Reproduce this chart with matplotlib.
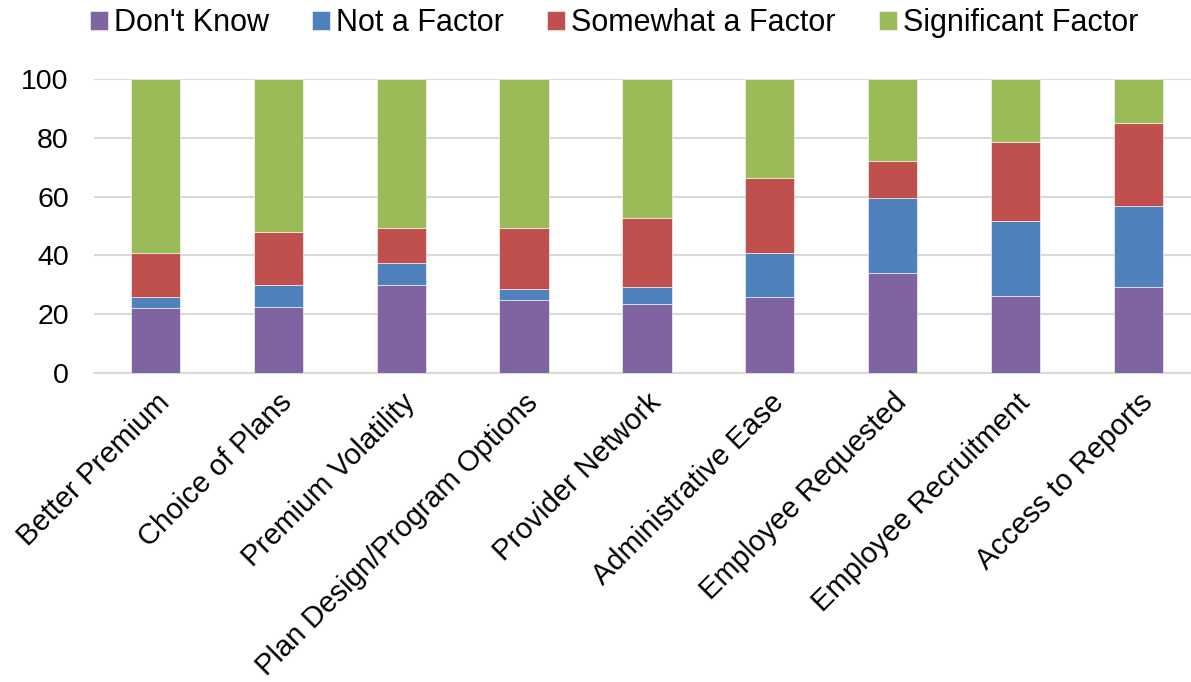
import matplotlib.pyplot as plt
import numpy as np

plt.rcParams['font.family'] = ['Liberation Sans', 'DejaVu Sans']

categories = ['Better Premium', 'Choice of Plans', 'Premium Volatility',
              'Plan Design/Program Options', 'Provider Network', 'Administrative Ease',
              'Employee Requested', 'Employee Recruitment', 'Access to Reports']

dont_know = [22.3, 22.4, 30.0, 24.8, 23.4, 25.8, 34.0, 26.2, 29.2]
not_a_factor = [3.7, 7.7, 7.4, 3.7, 5.8, 14.9, 25.7, 25.4, 27.5]
somewhat_a_factor = [14.7, 17.8, 11.8, 21.0, 23.6, 25.7, 12.3, 27.1, 28.5]
significant_factor = [59.3, 52.1, 50.8, 50.5, 47.2, 33.6, 28.0, 21.3, 14.8]

series = [
    ("Don't Know", dont_know, '#8064A2'),
    ('Not a Factor', not_a_factor, '#4F81BD'),
    ('Somewhat a Factor', somewhat_a_factor, '#C0504D'),
    ('Significant Factor', significant_factor, '#9BBB59'),
]

fig = plt.figure(figsize=(11.91, 6.82), dpi=100)
ax = fig.add_axes([0.0788, 0.453, 0.9288, 0.431])

x = np.arange(len(categories))
bottom = np.zeros(len(categories))
for name, values, color in series:
    ax.bar(x, values, 0.4, bottom=bottom, color=color, label=name,
           edgecolor='white', linewidth=0.4, zorder=3)
    bottom += np.array(values)

ax.set_xlim(-0.5, len(categories) - 0.5)
ax.set_ylim(0, 100)
ax.set_yticks(np.arange(0, 101, 20))
ax.yaxis.grid(True, color='#d9d9d9', linewidth=1.5, zorder=0)
ax.set_axisbelow(True)
for side in ['top', 'right', 'left']:
    ax.spines[side].set_visible(False)
ax.spines['bottom'].set_color('#d9d9d9')
ax.spines['bottom'].set_linewidth(1.5)
ax.tick_params(axis='both', length=0)
ax.tick_params(axis='y', pad=18, labelsize=20.5)
ax.tick_params(axis='x', pad=11, labelsize=21)
ax.set_xticks(x)
ax.set_xticklabels(categories, rotation=45, ha='right', va='top',
                   rotation_mode='anchor')

fig.legend(loc='center', bbox_to_anchor=(614 / 1191, 1 - 23 / 682), ncol=4,
           frameon=False, fontsize=22, handlelength=0.6, handleheight=0.6,
           handletextpad=0.2, columnspacing=1.4, borderaxespad=0)

fig.savefig('out.png', dpi=100)
